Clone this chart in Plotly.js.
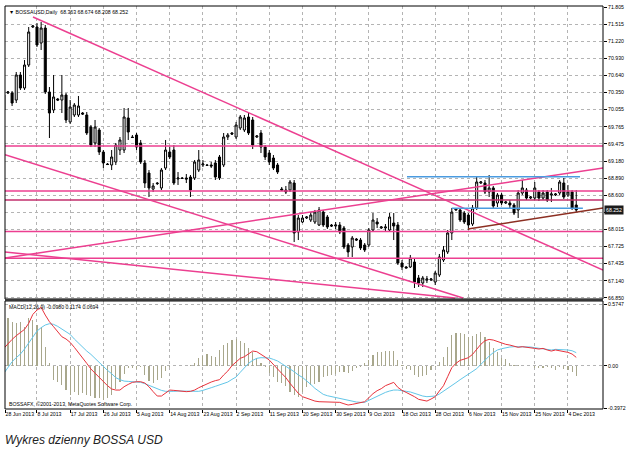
<!DOCTYPE html>
<html><head><meta charset="utf-8">
<script src="https://cdn.plot.ly/plotly-3.0.1.min.js"></script>
<style>html,body{margin:0;padding:0;background:#fff;}#chart{width:631px;height:461px;}</style>
</head><body><div id="chart"></div>
<script>
// Daily bars 28 Jun 2013 .. 6 Dec 2013 (broker feed includes short Sunday bars)
const open = [
70.049,70.339,70.339,70.219,70.646,70.424,70.816,71.464,71.464,71.191,
71.447,70.356,70.049,70.237,70.219,70.305,69.845,69.964,69.964,69.998,
69.964,69.759,69.487,69.708,69.333,69.129,69.112,69.163,69.367,69.367,
69.913,69.589,69.623,69.487,69.146,68.975,68.702,68.805,68.720,69.060,
69.333,69.367,68.873,68.890,68.890,68.907,68.890,69.026,69.112,69.112,
69.112,69.146,69.248,69.112,69.589,69.657,69.589,69.742,69.708,69.930,
69.879,69.589,69.657,69.418,69.316,69.231,69.112,68.702,68.685,68.685,
68.805,67.970,68.140,68.208,68.174,68.140,68.089,68.310,68.225,68.089,
68.072,68.089,68.038,67.748,67.714,67.850,67.833,67.748,67.748,68.004,
68.140,68.038,68.038,68.004,68.123,68.089,67.441,67.373,67.373,67.458,
67.186,67.100,67.151,67.151,67.117,67.237,67.492,67.629,67.953,68.345,
68.345,68.293,68.259,68.106,68.379,68.805,68.805,68.651,68.720,68.464,
68.600,68.464,68.464,68.430,68.345,68.634,68.685,68.549,68.549,68.651,
68.549,68.651,68.600,68.600,68.634,68.805,68.600,68.651,68.430];
const high = [
70.424,70.373,70.373,70.697,70.697,70.901,71.464,71.498,71.532,71.549,
71.498,70.441,70.646,70.254,70.646,70.339,70.219,70.168,70.288,70.015,
70.015,69.793,69.879,69.742,69.367,69.146,69.367,69.487,69.589,70.083,
70.083,69.623,69.657,69.538,69.197,69.026,68.805,68.822,69.060,69.538,
69.418,69.452,68.992,68.907,68.958,68.941,69.197,69.367,69.197,69.129,
69.163,69.197,69.282,69.657,69.657,69.674,69.845,69.964,69.964,69.998,
69.930,69.623,69.708,69.452,69.367,69.282,69.146,68.737,68.754,68.856,
68.856,68.259,68.259,68.242,68.310,68.345,68.396,68.345,68.259,68.106,
68.140,68.140,68.072,67.782,67.901,67.867,67.867,67.782,68.038,68.293,
68.208,68.072,68.106,68.293,68.293,68.140,67.492,67.390,67.578,67.526,
67.237,67.220,67.220,67.186,67.305,67.595,67.731,68.004,68.379,68.379,
68.379,68.328,68.293,68.430,68.924,68.839,68.856,68.941,68.754,68.634,
68.634,68.498,68.515,68.464,68.685,68.856,68.720,68.583,68.822,68.685,
68.685,68.685,68.720,68.634,68.856,68.890,68.771,68.685,68.685];
const low = [
69.964,70.322,70.117,70.168,70.390,70.390,70.782,71.447,71.123,71.072,
70.322,69.572,69.998,70.202,69.998,69.827,69.810,69.930,69.930,69.964,
69.623,69.418,69.418,69.282,69.060,69.112,69.026,69.112,69.282,69.316,
69.538,69.572,69.367,69.129,68.720,68.566,68.651,68.771,68.685,69.026,
69.214,68.771,68.771,68.873,68.805,68.566,68.856,68.992,69.077,69.095,
69.060,68.856,68.856,69.077,69.538,69.623,69.555,69.708,69.674,69.623,
69.384,69.572,69.316,69.197,69.112,69.026,68.958,68.668,68.617,68.651,
67.799,67.833,68.123,68.191,68.140,68.106,68.072,68.055,68.021,68.055,
68.021,67.935,67.680,67.543,67.543,67.816,67.663,67.629,67.714,67.970,
68.038,68.021,67.987,67.970,67.833,67.407,67.322,67.356,67.356,67.015,
67.032,67.032,67.100,67.134,67.066,67.203,67.458,67.595,67.833,68.328,
68.140,68.106,68.004,68.072,68.345,68.788,68.617,68.566,68.379,68.396,
68.430,68.447,68.379,68.259,68.208,68.600,68.515,68.532,68.515,68.498,
68.515,68.481,68.481,68.583,68.600,68.532,68.566,68.345,68.310];
const close = [
70.305,70.356,70.168,70.646,70.424,70.816,71.379,71.481,71.157,71.447,
70.356,69.998,70.271,70.219,70.305,69.879,70.100,70.134,70.117,69.981,
69.657,69.452,69.759,69.333,69.146,69.120,69.248,69.452,69.538,69.930,
69.674,69.580,69.418,69.163,68.805,68.720,68.754,68.795,69.026,69.367,
69.248,68.805,68.890,68.882,68.873,68.685,69.163,69.197,69.129,69.105,
69.095,68.907,68.890,69.589,69.623,69.640,69.793,69.930,69.913,69.657,
69.452,69.606,69.418,69.248,69.163,69.060,68.992,68.685,68.651,68.822,
67.953,68.208,68.208,68.225,68.259,68.310,68.345,68.089,68.055,68.072,
68.089,67.970,67.714,67.629,67.867,67.833,67.697,67.663,68.004,68.174,
68.106,68.055,68.055,68.225,68.072,67.441,67.373,67.356,67.526,67.117,
67.100,67.186,67.168,67.168,67.271,67.543,67.663,67.953,68.310,68.362,
68.174,68.140,68.089,68.379,68.822,68.822,68.651,68.720,68.413,68.600,
68.464,68.481,68.430,68.293,68.634,68.720,68.549,68.566,68.720,68.549,
68.634,68.515,68.617,68.617,68.822,68.566,68.651,68.379,68.345];

// MACD(12,26,9) panel
const macdHist = [
0.443,0.449,0.412,0.396,0.412,0.365,0.443,0.427,0.381,0.365,
0.178,0.022,-0.134,-0.156,-0.181,-0.228,-0.275,-0.250,-0.275,-0.259,
-0.275,-0.281,-0.300,-0.306,-0.321,-0.306,-0.275,-0.218,-0.156,-0.081,
-0.025,-0.018,-0.031,-0.009,-0.087,-0.144,-0.165,-0.134,-0.112,-0.050,
-0.009,-0.003,-0.006,-0.003,-0.006,0.006,0.022,0.069,0.094,0.106,
0.094,0.081,0.147,0.193,0.209,0.240,0.250,0.231,0.209,0.168,
0.131,0.075,0.022,-0.009,-0.072,-0.103,-0.156,-0.165,-0.187,-0.243,
-0.275,-0.290,-0.243,-0.196,-0.184,-0.168,-0.156,-0.103,-0.094,-0.087,
-0.075,-0.062,-0.056,-0.072,-0.050,-0.025,-0.012,0.022,0.053,0.100,
0.125,0.131,0.140,0.140,0.137,0.053,0.003,-0.031,-0.044,-0.087,
-0.103,-0.100,-0.087,-0.044,-0.009,0.037,0.084,0.178,0.287,0.303,
0.303,0.293,0.271,0.275,0.293,0.312,0.271,0.225,0.162,0.125,
0.075,0.062,0.022,0.006,0.003,-0.002,-0.003,-0.006,-0.019,-0.019,
-0.025,-0.009,-0.019,-0.041,-0.009,-0.031,-0.041,-0.062,-0.097];
const macdMain = [
0.162,0.209,0.246,0.281,0.312,0.340,0.396,0.480,0.521,0.546,
0.474,0.412,0.365,0.318,0.271,0.250,0.218,0.172,0.125,0.075,
0.022,-0.031,-0.072,-0.112,-0.144,-0.187,-0.218,-0.228,-0.228,-0.197,
-0.175,-0.156,-0.150,-0.150,-0.162,-0.197,-0.243,-0.284,-0.284,-0.259,
-0.228,-0.231,-0.237,-0.240,-0.243,-0.240,-0.228,-0.206,-0.187,-0.165,
-0.153,-0.140,-0.131,-0.087,-0.050,0.000,0.037,0.069,0.084,0.109,
0.137,0.131,0.109,0.081,0.053,0.006,-0.031,-0.072,-0.112,-0.165,
-0.212,-0.259,-0.290,-0.306,-0.321,-0.331,-0.337,-0.337,-0.337,-0.337,
-0.337,-0.343,-0.356,-0.368,-0.362,-0.353,-0.343,-0.337,-0.300,-0.262,
-0.234,-0.215,-0.187,-0.168,-0.156,-0.203,-0.231,-0.250,-0.268,-0.290,
-0.315,-0.324,-0.331,-0.312,-0.290,-0.237,-0.187,-0.103,-0.019,0.022,
0.050,0.062,0.075,0.106,0.156,0.200,0.234,0.246,0.240,0.225,
0.209,0.200,0.193,0.184,0.172,0.178,0.175,0.168,0.162,0.156,
0.162,0.147,0.137,0.147,0.140,0.137,0.125,0.109,0.078];
const macdSignal = [
-0.072,-0.019,0.037,0.075,0.109,0.156,0.209,0.271,0.324,0.356,
0.381,0.393,0.387,0.368,0.343,0.324,0.293,0.250,0.209,0.168,
0.137,0.106,0.069,0.025,-0.009,-0.044,-0.075,-0.112,-0.131,-0.144,
-0.147,-0.150,-0.150,-0.156,-0.168,-0.184,-0.200,-0.218,-0.231,-0.240,
-0.243,-0.240,-0.237,-0.237,-0.240,-0.243,-0.243,-0.240,-0.231,-0.222,
-0.206,-0.193,-0.181,-0.168,-0.153,-0.128,-0.106,-0.062,-0.019,0.022,
0.050,0.069,0.075,0.075,0.072,0.059,0.044,0.019,-0.009,-0.031,
-0.056,-0.087,-0.109,-0.140,-0.175,-0.212,-0.237,-0.268,-0.281,-0.290,
-0.296,-0.306,-0.312,-0.321,-0.331,-0.340,-0.343,-0.343,-0.324,-0.306,
-0.284,-0.265,-0.250,-0.237,-0.228,-0.228,-0.231,-0.240,-0.246,-0.259,
-0.271,-0.284,-0.290,-0.290,-0.284,-0.265,-0.240,-0.215,-0.187,-0.159,
-0.131,-0.106,-0.078,-0.053,-0.028,0.012,0.056,0.090,0.122,0.147,
0.159,0.168,0.175,0.178,0.178,0.178,0.178,0.175,0.168,0.162,
0.156,0.150,0.147,0.153,0.153,0.150,0.147,0.140,0.122];

const tickBars = [0,8,16,24,32,40,48,56,64,72,80,88,96,104,112,120,128,136];
const tickLabels = ['28 Jun 2013','8 Jul 2013','17 Jul 2013','26 Jul 2013','5 Aug 2013','14 Aug 2013',
 '23 Aug 2013','2 Sep 2013','11 Sep 2013','20 Sep 2013','30 Sep 2013','9 Oct 2013','18 Oct 2013',
 '28 Oct 2013','6 Nov 2013','15 Nov 2013','25 Nov 2013','4 Dec 2013'];
const priceTicks = [71.805,71.515,71.220,70.930,70.640,70.350,70.055,69.765,69.475,69.180,
 68.890,68.600,68.310,68.015,67.725,67.435,67.140,66.850];
const hiddenPriceTick = 68.310;   // covered by the last-price box in the reference
const macdTicks = [0.5747, 0, -0.3972];
const macdTickText = ['0.5747','0.00','-0.3972'];

// drawn objects: [bar0, price0, bar1, price1]
const pinkLevels = [69.436, 68.668, 67.978, 67.521];
const darkLevels = [68.515];
const pinkTrends = [[7.04,71.634,144.45,67.322],[0.29,67.526,144.45,69.060],
                    [0.29,69.289,110.7,66.845],[0.29,67.629,108.8,66.845]];
const blueSegs = [[97.2,68.912,138.9,68.912],[108.0,68.373,139.6,68.373]];
const brownSegs = [[111.9,68.021,144.45,68.379]];

const headerText = '\u25BC BOSSAUSD,Daily  68.363 68.674 68.208 68.252';
const macdText = 'MACD(12,26,9) -0.0980 0.1174 0.0694';
const copyText = 'BOSSAFX, \u00A92001-2013, MetaQuotes Software Corp.';
const caption = 'Wykres dzienny BOSSA USD';
const lastPriceText = '68.252';

const idx = close.map((_, i) => i);
const xRange = [0.29, 144.45];
const font = 'Liberation Sans, Arial, sans-serif';

const traces = [
  {type:'candlestick', x: idx, open, high, low, close, xaxis:'x', yaxis:'y',
   increasing:{line:{color:'#000', width:1}, fillcolor:'#ffffff'},
   decreasing:{line:{color:'#000', width:1}, fillcolor:'#000000'},
   whiskerwidth:0, hoverinfo:'skip', showlegend:false},
  {type:'bar', x: idx, y: macdHist, xaxis:'x', yaxis:'y2', width:0.28,
   marker:{color:'#a8a78c', line:{width:0}}, hoverinfo:'skip', showlegend:false},
  {type:'scatter', mode:'lines', x: idx, y: macdSignal, xaxis:'x', yaxis:'y2',
   line:{color:'#63c6e8', width:1}, hoverinfo:'skip', showlegend:false},
  {type:'scatter', mode:'lines', x: idx, y: macdMain, xaxis:'x', yaxis:'y2',
   line:{color:'#e8323c', width:1}, hoverinfo:'skip', showlegend:false}
];

const shapes = [];
pinkLevels.forEach(p => shapes.push({type:'line', xref:'paper', yref:'y', x0:0, x1:1, y0:p, y1:p, line:{color:'#ec3f90', width:1.5}}));
darkLevels.forEach(p => shapes.push({type:'line', xref:'paper', yref:'y', x0:0, x1:1, y0:p, y1:p, line:{color:'#c22f6c', width:1.5}}));
pinkTrends.forEach(s => shapes.push({type:'line', xref:'x', yref:'y', x0:s[0], y0:s[1], x1:s[2], y1:s[3], line:{color:'#ec3f90', width:1.5}}));
blueSegs.forEach(s => shapes.push({type:'line', xref:'x', yref:'y', x0:s[0], y0:s[1], x1:s[2], y1:s[3], line:{color:'#4a9be0', width:1.5}}));
brownSegs.forEach(s => shapes.push({type:'line', xref:'x', yref:'y', x0:s[0], y0:s[1], x1:s[2], y1:s[3], line:{color:'#8c2f22', width:1.5}}));
// panel frames and separator
shapes.push({type:'rect', xref:'paper', yref:'paper', x0:0, x1:1, y0:0.268, y1:0.273, fillcolor:'#707070', line:{width:0}});
shapes.push({type:'rect', xref:'paper', yref:'paper', x0:0, x1:1, y0:0.273, y1:1, line:{color:'#000', width:1}});
shapes.push({type:'rect', xref:'paper', yref:'paper', x0:0, x1:1, y0:0, y1:0.268, line:{color:'#000', width:1}});

const small = {family: font, size: 5.2, color:'#000'};
const annotations = [
  {xref:'paper', yref:'paper', x:0.004, y:1, xanchor:'left', yanchor:'top', yshift:-1, text: headerText, showarrow:false, font: small},
  {xref:'paper', yref:'paper', x:0.004, y:0.268, xanchor:'left', yanchor:'top', yshift:-1, text: macdText, showarrow:false, font: small},
  {xref:'paper', yref:'paper', x:0.004, y:0, xanchor:'left', yanchor:'bottom', yshift:0, text: copyText, showarrow:false, font: small},
  {xref:'paper', yref:'paper', x:-0.003, y:-0.077, xanchor:'left', yanchor:'middle', text: '<i>' + caption + '</i>', showarrow:false,
   font:{family: font, size: 12, color:'#222'}},
  {xref:'paper', yref:'y', x:1, y: close[close.length-1], xanchor:'left', yanchor:'middle', xshift:1, text: lastPriceText, showarrow:false,
   bgcolor:'#1b1b1b', borderpad:1, font:{family: font, size: 5.2, color:'#fff'}}
];

const tickVals = tickBars.map(b => Math.max(b, xRange[0]));

const layout = {
  width:631, height:461, margin:{l:5, r:28, t:6, b:52},
  paper_bgcolor:'#fff', plot_bgcolor:'#fff', showlegend:false, bargap:0,
  xaxis:{range: xRange, anchor:'y2', tickmode:'array', tickvals: tickVals, ticktext: tickLabels,
    tickangle:0, ticklabelposition:'outside right', tickfont: small, ticks:'outside', ticklen:3, tickcolor:'#000',
    showgrid:true, gridcolor:'#b4b4b4', griddash:'dot', gridwidth:1, zeroline:false, showline:false,
    rangeslider:{visible:false}, fixedrange:true},
  yaxis:{domain:[0.273,1], range:[66.828,71.822], side:'right', anchor:'x', tickmode:'array',
    tickvals: priceTicks, ticktext: priceTicks.map(v => v === hiddenPriceTick ? '' : v.toFixed(3)), tickfont: small,
    ticks:'outside', ticklen:3, tickcolor:'#000', showgrid:true, gridcolor:'#b4b4b4', griddash:'dot',
    zeroline:false, showline:false, fixedrange:true},
  yaxis2:{domain:[0,0.268], range:[-0.4053,0.6056], side:'right', anchor:'x', tickmode:'array',
    tickvals: macdTicks, ticktext: macdTickText, tickfont: small, ticks:'outside', ticklen:3, tickcolor:'#000',
    showgrid:true, gridcolor:'#b4b4b4', griddash:'dot', zeroline:false, showline:false, fixedrange:true},
  shapes, annotations
};

Plotly.newPlot('chart', traces, layout, {staticPlot:true, displayModeBar:false});
</script></body></html>
